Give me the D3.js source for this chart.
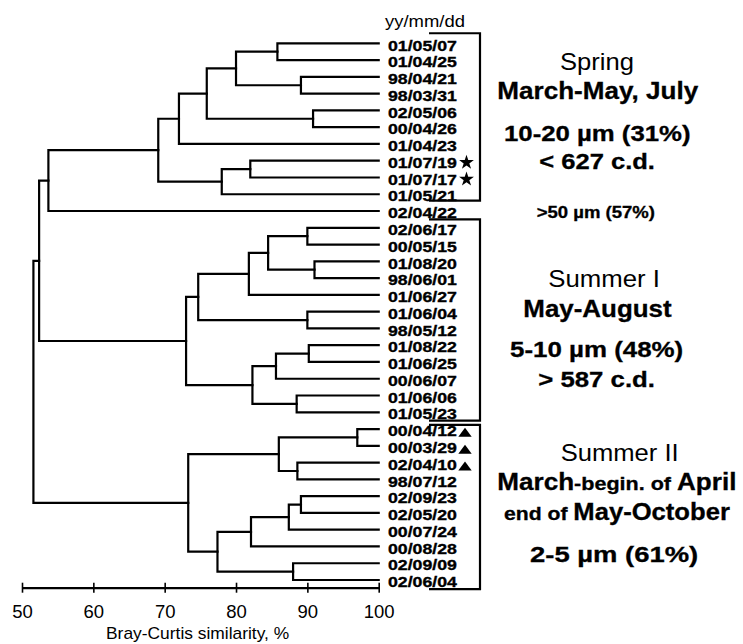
<!DOCTYPE html>
<html><head><meta charset="utf-8">
<script src="https://cdn.jsdelivr.net/npm/d3@7"></script>
<style>
body{margin:0;background:#fff}
svg{display:block}
text{font-family:"Liberation Sans",Arial,Helvetica,sans-serif;fill:#000}
</style>
</head><body>
<svg id="c" width="743" height="644"></svg>
<script>
// ---------- data ----------
const leafLabels = [
  "01/05/07","01/04/25","98/04/21","98/03/31","02/05/06","00/04/26","01/04/23",
  "01/07/19","01/07/17","01/05/21","02/04/22",
  "02/06/17","00/05/15","01/08/20","98/06/01","01/06/27","01/06/04","98/05/12",
  "01/08/22","01/06/25","00/06/07","01/06/06","01/05/23",
  "00/04/12","00/03/29","02/04/10","98/07/12","02/09/23","02/05/20","00/07/24",
  "00/08/28","02/09/09","02/06/04"
];
// linkage: node ids 0..32 are leaves, merged node k gets id 33+k
const mergeLeft   = [0, 2, 33, 4, 35, 37, 7, 39, 38, 41, 11, 13, 43, 45, 16, 46, 18, 49, 21, 50, 48, 23, 25, 54, 27, 57, 58, 31, 59, 56, 42, 63];
const mergeRight  = [1, 3, 34, 5, 36, 6, 8, 9, 40, 10, 12, 14, 44, 15, 17, 47, 19, 20, 22, 51, 52, 24, 26, 55, 28, 29, 30, 32, 60, 61, 53, 62];
const mergeHeight = [85.8, 89.1, 80.0, 90.8, 75.9, 72.0, 82.0, 78.0, 69.1, 53.7, 90.0, 91.0, 84.5, 81.8, 90.0, 74.7, 90.2, 85.6, 88.5, 82.3, 73.0, 97.0, 88.6, 86.0, 89.1, 87.4, 82.1, 88.0, 77.4, 73.3, 52.4, 51.6];
const starLeaves = ["01/07/19","01/07/17"];
const triangleLeaves = ["00/04/12","00/03/29","02/04/10"];
const axisTicks = [50, 60, 70, 80, 90, 100];
const axisTitle = "Bray-Curtis similarity, %";
const dateHeader = "yy/mm/dd";
const springLines = ["Spring", "March-May, July", "10-20 µm (31%)", "< 627 c.d."];
const largeCellLine = ">50 µm (57%)";
const summer1Lines = ["Summer I", "May-August", "5-10 µm (48%)", "> 587 c.d."];
const summer2Lines = ["Summer II", ["March", "-begin. of ", "April"], ["end of ", "May-October"], "2-5 µm (61%)"];

// ---------- setup ----------
const svg = d3.select("#c");
const n = leafLabels.length;
const x = d3.scaleLinear().domain([50, 100]).range([22, 378.7]);
const y = d3.scaleLinear().domain([0, n - 1]).range([43.3, 580]);

// text helper: draws segments, then stretches horizontally to target width
function fitText(left, baseline, width, segments) {
  const t = svg.append("text").attr("transform", `translate(${left},${baseline})`);
  segments.forEach(s => {
    const ts = t.append("tspan").text(s.text)
      .attr("font-size", s.size).attr("font-weight", s.weight || "normal");
    if (s.weight === "bold") ts.attr("stroke", "#000").attr("stroke-width", s.sw || 0.3);
  });
  const w = t.node().getComputedTextLength();
  t.attr("transform", `translate(${left},${baseline}) scale(${width / w},1)`);
  return t;
}

// ---------- dendrogram ----------
const nodeY = leafLabels.map((d, i) => y(i));
const nodeH = leafLabels.map(() => 100);
mergeLeft.forEach((l, k) => {
  const r = mergeRight[k];
  nodeY.push((nodeY[l] + nodeY[r]) / 2);
  nodeH.push(mergeHeight[k]);
});
const tree = svg.append("g").attr("fill", "none").attr("stroke", "#000")
  .attr("stroke-width", 2.2).attr("stroke-linejoin", "miter").attr("stroke-linecap", "square");
mergeLeft.forEach((l, k) => {
  const r = mergeRight[k];
  const p = d3.path();
  p.moveTo(x(nodeH[l]), nodeY[l]);
  p.lineTo(x(mergeHeight[k]), nodeY[l]);
  p.lineTo(x(mergeHeight[k]), nodeY[r]);
  p.lineTo(x(nodeH[r]), nodeY[r]);
  tree.append("path").attr("d", p.toString());
});

// ---------- leaf labels & markers ----------
leafLabels.forEach((lab, i) => {
  fitText(388, y(i) + 7.2, 69, [{text: lab, size: 15, weight: "bold", sw: 0.35}]);
});
const star = d3.symbol().type(d3.symbolStar).size(68);
starLeaves.forEach(lab => {
  const i = leafLabels.indexOf(lab);
  svg.append("path").attr("d", star()).attr("fill", "#000")
    .attr("transform", `translate(466.5,${y(i) + 1.8})`);
});
triangleLeaves.forEach(lab => {
  const i = leafLabels.indexOf(lab);
  const yy = y(i);
  svg.append("path").attr("fill", "#000")
    .attr("d", d3.line()([[458.3, yy + 7.8], [471.7, yy + 7.8], [465, yy - 1.2]]) + "Z");
});

// ---------- group brackets ----------
const brackets = [[-0.6, 9.38], [10.5, 22.5], [22.75, 32.55]];
brackets.forEach(([a, b]) => {
  svg.append("path").attr("fill", "none").attr("stroke", "#000").attr("stroke-width", 2.2)
    .attr("d", `M429,${y(a)}H480V${y(b)}H429`);
});

// ---------- axis ----------
const axisG = svg.append("g").attr("transform", "translate(0,587.7)")
  .call(d3.axisBottom(x).tickValues(axisTicks).tickSizeOuter(0).tickSizeInner(5).tickFormat(d3.format("d")));
axisG.select(".domain").attr("stroke", "#000").attr("stroke-width", 2.2);
axisG.selectAll(".tick line").attr("y1", -5).attr("y2", 5).attr("stroke", "#000").attr("stroke-width", 1.6);
axisG.selectAll(".tick text").attr("y", 30.5).attr("dy", 0)
  .attr("font-size", 18.5).attr("fill", "#000");
fitText(106, 639, 183.3, [{text: axisTitle, size: 16}]);

// ---------- header & annotations ----------
fitText(385, 27, 80, [{text: dateHeader, size: 16.5}]);

const B = 23, M = 22, S = 19;
fitText(560, 70, 74, [{text: springLines[0], size: B}]);
fitText(497.3, 99, 201, [{text: springLines[1], size: B, weight: "bold"}]);
fitText(504, 140.5, 186.7, [{text: springLines[2], size: M, weight: "bold"}]);
fitText(539.3, 168.5, 115.7, [{text: springLines[3], size: M, weight: "bold"}]);
fitText(536.7, 218.3, 118.3, [{text: largeCellLine, size: 16, weight: "bold"}]);

fitText(548.3, 286.7, 111.7, [{text: summer1Lines[0], size: B}]);
fitText(523.3, 316.7, 148.3, [{text: summer1Lines[1], size: B, weight: "bold"}]);
fitText(510, 357.3, 173.3, [{text: summer1Lines[2], size: M, weight: "bold"}]);
fitText(538.3, 386.7, 116.7, [{text: summer1Lines[3], size: M, weight: "bold"}]);

fitText(560.7, 461, 118, [{text: summer2Lines[0], size: B}]);
fitText(497.3, 490, 239.3, [
  {text: summer2Lines[1][0], size: B, weight: "bold"},
  {text: summer2Lines[1][1], size: S, weight: "bold"},
  {text: summer2Lines[1][2], size: B, weight: "bold"}]);
fitText(504, 520, 226, [
  {text: summer2Lines[2][0], size: S, weight: "bold"},
  {text: summer2Lines[2][1], size: B, weight: "bold"}]);
fitText(530, 561.5, 168.3, [{text: summer2Lines[3], size: M, weight: "bold"}]);
</script>
</body></html>
